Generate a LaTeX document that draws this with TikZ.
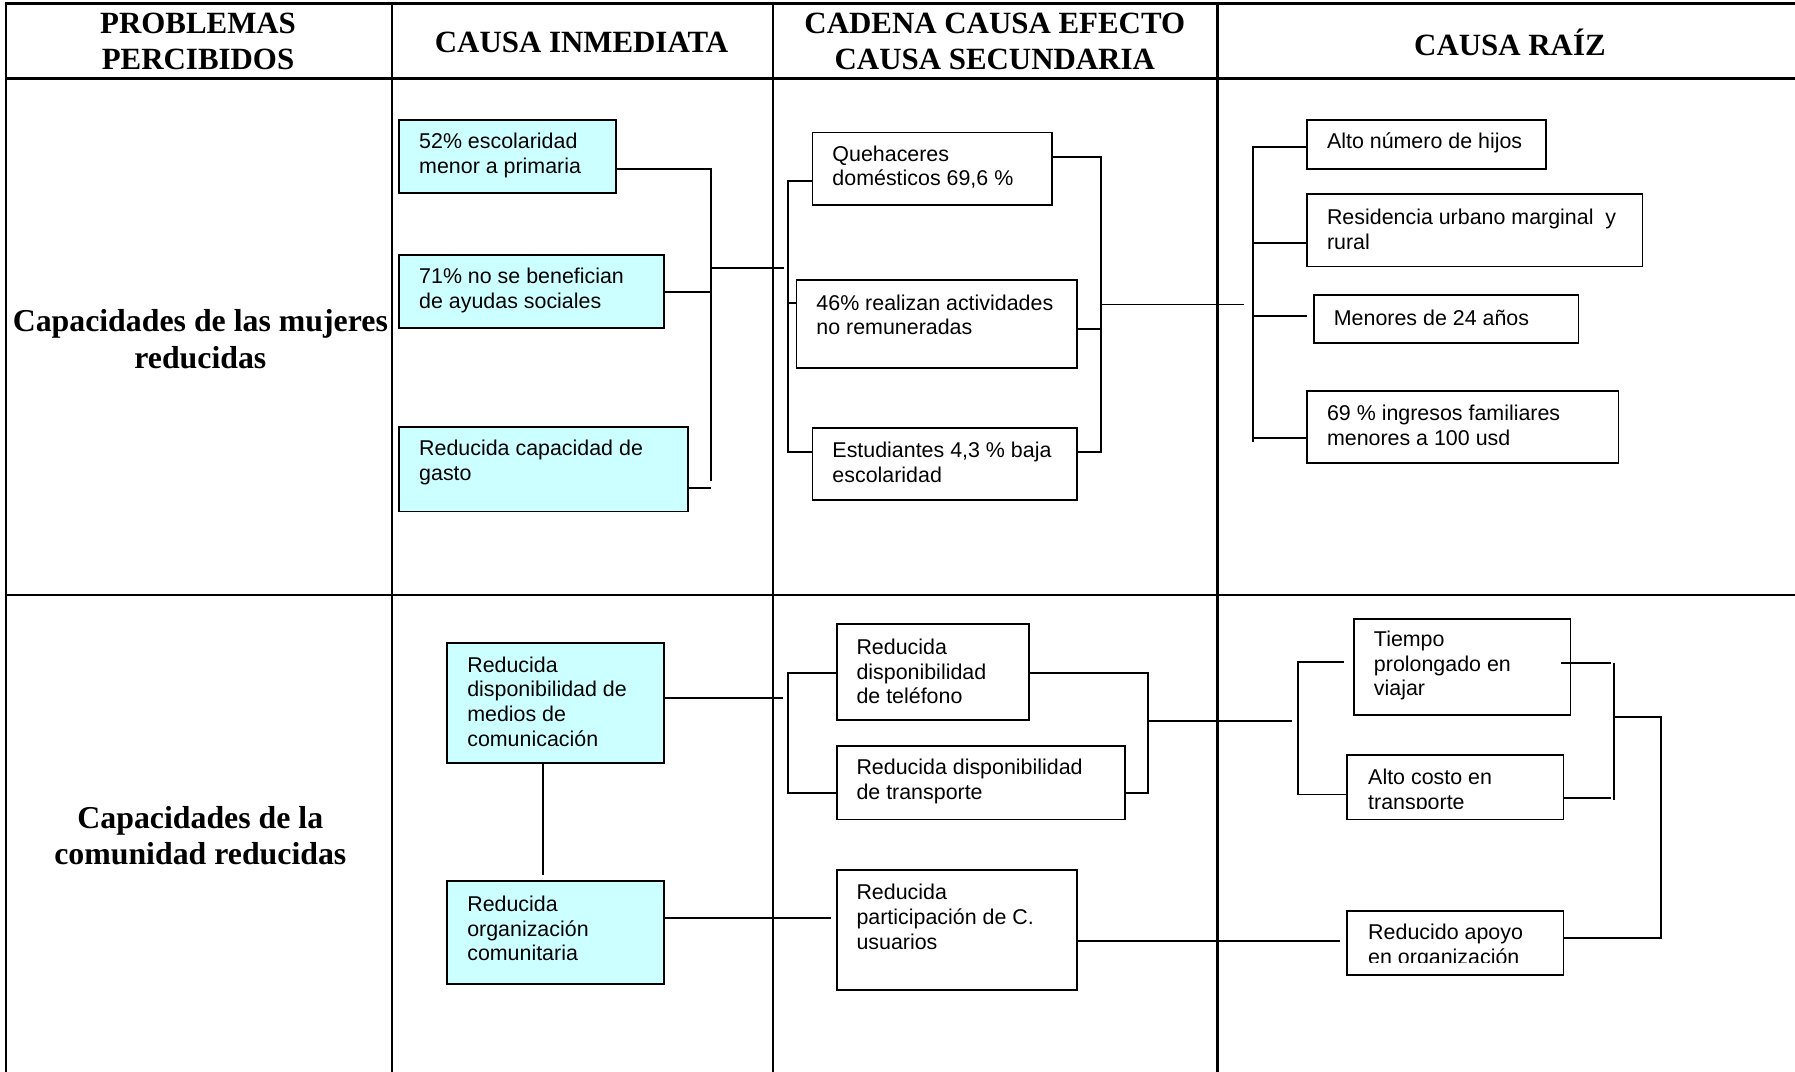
\documentclass[tikz,border=0pt]{standalone}
\usepackage{fontspec}
\setmainfont{Liberation Serif}
\setsansfont{Liberation Sans}
\usetikzlibrary{calc}
\definecolor{cyanfill}{HTML}{CCFFFF}
\tikzset{
  grid/.style={line width=2pt, line cap=rect},
  cbox/.style={draw, line width=1.6pt, fill=cyanfill, anchor=north west, inner sep=0pt},
  wbox/.style={draw, line width=1.6pt, fill=white, anchor=north west, inner sep=0pt},
  txt/.style={font=\sffamily\fontsize{18.7}{21.7}\selectfont, align=left, anchor=west, inner sep=0pt},
  head/.style={font=\rmfamily\bfseries\fontsize{27}{31}\selectfont, align=center, inner sep=0pt},
  rowlab/.style={font=\rmfamily\bfseries\fontsize{27.8}{32}\selectfont, align=center, inner sep=0pt},
  link/.style={line width=1.7pt}
}
\begin{document}
\begin{tikzpicture}[x=1pt,y=-1pt]
\useasboundingbox (0,0) rectangle (1568,936);

% ---- table grid ----
\draw[grid] (5,3) -- (1568,3);
\draw[grid] (5,68.5) -- (1568,68.5);
\draw[grid] (5,520) -- (1568,520);
\draw[grid] (5,3) -- (5,936);
\draw[grid] (342.5,3) -- (342.5,936);
\draw[grid] (675,3) -- (675,936);
\draw[grid] (1063.5,3) -- (1063.5,936);

% ---- headers ----
\node[head] (h1) at (173,36) {PROBLEMAS\\PERCIBIDOS};
\node[head] (h2) at (508,37) {CAUSA INMEDIATA};
\node[head] (h3) at (869,36) {CADENA CAUSA EFECTO\\CAUSA SECUNDARIA};
\node[head] (h4) at (1319,37) {CAUSA RAÍZ};

\node[rowlab] (r1) at (175,296) {Capacidades de las mujeres\\reducidas};
\node[rowlab] (r2) at (175,730) {Capacidades de la\\comunidad reducidas};

% ---- row 1 boxes ----
\node[cbox, minimum width=189pt, minimum height=64pt] (a1) at (348,104) {};
\node[cbox, minimum width=231pt, minimum height=64pt] (a2) at (348,222) {};
\node[cbox, minimum width=252pt, minimum height=74pt] (a3) at (348,372) {};
\node[wbox, minimum width=209pt, minimum height=63pt] (b1) at (709,115) {};
\node[wbox, minimum width=245pt, minimum height=77pt] (b2) at (695,244) {};
\node[wbox, minimum width=231pt, minimum height=63pt] (b3) at (709,373) {};
\node[wbox, minimum width=209pt, minimum height=43pt] (c1) at (1141,104) {};
\node[wbox, minimum width=293pt, minimum height=63pt] (c2) at (1141,169) {};
\node[wbox, minimum width=231pt, minimum height=42pt] (c3) at (1147,257) {};
\node[wbox, minimum width=272pt, minimum height=63pt] (c4) at (1141,341) {};

\node[txt] (a1t) at (366,136) {52\% escolaridad\\menor a primaria};
\node[txt] (a2t) at (366,254) {71\% no se benefician\\de ayudas sociales};
\node[txt] (a3t) at (366,404) {Reducida capacidad de\\gasto};
\node[txt] (b1t) at (727,146) {Quehaceres\\domésticos 69,6 \%};
\node[txt] (b2t) at (713,275) {46\% realizan actividades\\no remuneradas};
\node[txt] (b3t) at (727,404) {Estudiantes 4,3 \% baja\\escolaridad};
\node[txt] (c1t) at (1159,125) {Alto número de hijos};
\node[txt] (c2t) at (1159,200) {Residencia urbano marginal\ \ y\\rural};
\node[txt] (c3t) at (1165,278) {Menores de 24 años};
\node[txt] (c4t) at (1159,371.5) {69 \% ingresos familiares\\menores a 100 usd};

% ---- row 2 boxes ----
\node[cbox, minimum width=189pt, minimum height=105pt] (d1) at (390,561) {};
\node[cbox, minimum width=189pt, minimum height=90pt] (d2) at (390,769) {};
\node[wbox, minimum width=168pt, minimum height=84pt] (e1) at (730,544) {};
\node[wbox, minimum width=252pt, minimum height=64pt] (e2) at (730,651) {};
\node[wbox, minimum width=210pt, minimum height=105pt] (e3) at (730,759) {};
\node[wbox, minimum width=189pt, minimum height=84pt] (f1) at (1182,540) {};
\node[wbox, minimum width=189pt, minimum height=56pt] (f2) at (1176,659) {};
\node[wbox, minimum width=189pt, minimum height=56pt] (f3) at (1176,795) {};

\node[txt] (d1t) at (408,613) {Reducida\\disponibilidad de\\medios de\\comunicación};
\node[txt] (d2t) at (408,811) {Reducida\\organización\\comunitaria};
\node[txt] (e1t) at (748,586.5) {Reducida\\disponibilidad\\de teléfono};
\node[txt] (e2t) at (748,683) {Reducida disponibilidad\\de transporte};
\node[txt] (e3t) at (748,800.6) {Reducida\\participación de C.\\usuarios};
\node[txt] (f1t) at (1200,581.4) {Tiempo\\prolongado en\\viajar};
\begin{scope}
  \clip (1177,660) rectangle (1364,706);
  \node[txt] (f2t) at (1195,691) {Alto costo en\\transporte};
\end{scope}
\begin{scope}
  \clip (1177,796) rectangle (1364,841);
  \node[txt] (f3t) at (1195,826.5) {Reducido apoyo\\en organización};
\end{scope}

% ---- connectors row 1 ----
\coordinate (ja) at (621,148);
\coordinate (jab) at (621,420);
\coordinate (jaout) at (684.5,234);
\draw[link] (a1.east |- ja) -- (ja) -- (jab);
\draw[link] (a2.east) -- (a2.east -| ja);
\draw[link] (a3.east |- 0,426) -- (621,426);
\draw[link] (ja |- jaout) -- (jaout);

\coordinate (jbl) at (688,158);
\coordinate (jblb) at (688,394.5);
\draw[link] (b1.west |- jbl) -- (jbl) -- (jblb) -- (b3.west |- jblb);
\draw[link] (688,265) -- (b2.west |- 0,265);

\coordinate (jbr) at (962,137);
\coordinate (jbrb) at (962,394.5);
\coordinate (jbout) at (1087,266);
\draw[link] (b1.east |- jbr) -- (jbr) -- (jbrb) -- (b3.east |- jbrb);
\draw[link] (b2.east |- 0,287.5) -- (962,287.5);
\draw[link] (jbr |- jbout) -- (jbout);

\coordinate (jc) at (1094.5,128);
\coordinate (jcb) at (1094.5,386);
\draw[link] (c1.west |- jc) -- (jc) -- (jcb);
\draw[link] (jc |- 0,212) -- (c2.west |- 0,212);
\coordinate (c3end) at (1141.5,276);
\draw[link] (jc |- c3end) -- (c3end);
\draw[link] (jc |- 0,383) -- (c4.west |- 0,383);

% ---- connectors row 2 ----
\coordinate (dout) at (684,610);
\draw[link] (d1.east |- dout) -- (dout);
\draw[link] (d1.south -| 474,0) -- (474,764);
\coordinate (d2end) at (726,801.6);
\draw[link] (d2.east |- d2end) -- (d2end);

\coordinate (jel) at (688,587.6);
\coordinate (jelb) at (688,693);
\draw[link] (e1.west |- jel) -- (jel) -- (jelb) -- (e2.west |- jelb);

\coordinate (jer) at (1003,587.6);
\coordinate (jerb) at (1003,693);
\coordinate (jeout) at (1128.5,630);
\draw[link] (e1.east |- jer) -- (jer) -- (jerb) -- (e2.east |- jerb);
\draw[link] (jer |- jeout) -- (jeout);

\coordinate (e3end) at (1170.6,821.7);
\draw[link] (e3.east |- e3end) -- (e3end);

\coordinate (jfl) at (1134,578);
\coordinate (jflt) at (1174,578);
\draw[link] (jflt) -- (jfl) -- (1134,694) -- (f2.west |- 0,694);

\coordinate (jfr) at (1409.5,579.5);
\draw[link] (1364,579) -- (1407,579);
\draw[link] (jfr) -- (1409.5,699);
\draw[link] (f2.east |- 0,697.4) -- (1407,697.4);
\coordinate (jg) at (1451,626.6);
\draw[link] (1409,626.6) -- (jg) -- (1451,819.7) -- (f3.east |- 0,819.7);
\end{tikzpicture}
\end{document}
